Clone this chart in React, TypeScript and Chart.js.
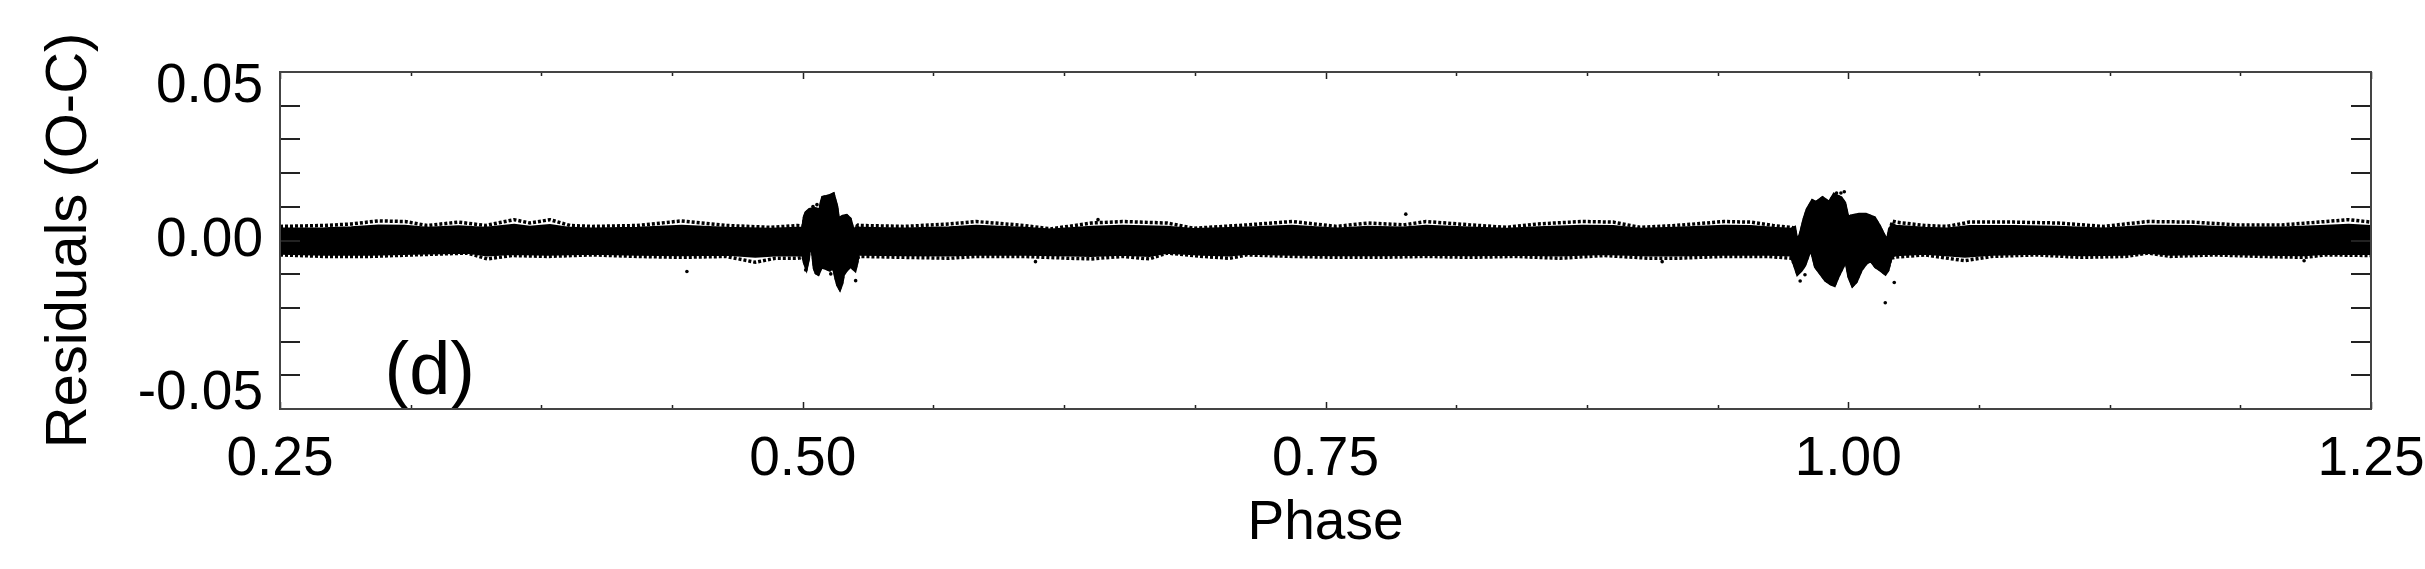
import React, { useEffect, useRef } from "react";
import { Chart, registerables } from "chart.js";

Chart.register(...registerables);

// ---- data ----
// phases of the upper edge of the residual band
const upperPhase = [
  0.25, 0.2713, 0.2841, 0.297, 0.3098, 0.3204, 0.3354, 0.3482, 0.362, 0.3695, 0.3791, 0.3887, 0.3994, 0.4207, 0.4421, 0.4634, 0.4847, 0.4975,
  0.5002, 0.5009, 0.5017, 0.5033, 0.5057, 0.5073, 0.5081, 0.5089, 0.5097, 0.5129, 0.5145, 0.5161, 0.5169, 0.5177, 0.5193, 0.5209, 0.5225, 0.5233, 0.5241, 0.5249, 0.5256, 0.5264,
  0.5274, 0.5488, 0.5701, 0.5829, 0.606, 0.6187, 0.638, 0.6529, 0.6742, 0.687, 0.7126, 0.734, 0.7553, 0.7703, 0.7873, 0.798, 0.8193, 0.8364, 0.8514, 0.8727, 0.8876, 0.9004, 0.9175, 0.9405, 0.9533, 0.964, 0.9726,
  0.9742, 0.975, 0.9766, 0.9774, 0.979, 0.9805, 0.9829, 0.9845, 0.9877, 0.9909, 0.9933, 0.9965, 0.9981, 0.9997, 1.0013, 1.0052, 1.0084, 1.0124, 1.0148, 1.0172, 1.0188, 1.0199, 1.0212, 1.0228,
  1.0366, 1.0472, 1.0579, 1.0793, 1.1006, 1.122, 1.1433, 1.1646, 1.186, 1.2073, 1.2286, 1.2393, 1.25,
];
// dense core of the band, upper edge
const upperCore = [
  0.0036, 0.0037, 0.004, 0.0046, 0.0045, 0.0038, 0.0043, 0.0038, 0.0048, 0.0042, 0.0047, 0.0038, 0.0036, 0.0038, 0.0045, 0.0038, 0.0035, 0.0038,
  0.0038, 0.0075, 0.009, 0.01, 0.0103, 0.01, 0.0085, 0.012, 0.014, 0.0145, 0.015, 0.011, 0.0068, 0.0072, 0.0078, 0.008, 0.007, 0.005, 0.003, 0.003, 0.004, 0.004,
  0.0038, 0.0036, 0.004, 0.0045, 0.0038, 0.0033, 0.0042, 0.0045, 0.0042, 0.0034, 0.0039, 0.0045, 0.0036, 0.0042, 0.0039, 0.0045, 0.0039, 0.0035, 0.004, 0.0045, 0.0044, 0.0035, 0.0038, 0.0045, 0.0044, 0.0038, 0.0035,
  0.004, 0.0008, 0.0008, 0.0024, 0.0068, 0.01, 0.0128, 0.0122, 0.0138, 0.0122, 0.0149, 0.0138, 0.0122, 0.0073, 0.0079, 0.0084, 0.0084, 0.0073, 0.0046, 0.0013, -0.0003, 0.0035, 0.005, 0.0045,
  0.0038, 0.0036, 0.0044, 0.0044, 0.0042, 0.0036, 0.0045, 0.0044, 0.0039, 0.0039, 0.0045, 0.0048, 0.0044,
];
// sparse outermost points, upper edge
const upperOuter = [
  0.0046, 0.0049, 0.0054, 0.0064, 0.0062, 0.0049, 0.006, 0.0049, 0.0068, 0.0057, 0.0068, 0.0049, 0.0046, 0.0049, 0.0064, 0.0049, 0.0043, 0.0049,
  0.0047, 0.0075, 0.009, 0.01, 0.0103, 0.01, 0.0085, 0.012, 0.014, 0.0145, 0.015, 0.011, 0.0068, 0.0072, 0.0078, 0.008, 0.007, 0.005, 0.003, 0.003, 0.0045, 0.005,
  0.0049, 0.0046, 0.0054, 0.0062, 0.0049, 0.0038, 0.0057, 0.0062, 0.0057, 0.004, 0.0051, 0.0062, 0.0046, 0.0057, 0.0051, 0.0062, 0.0051, 0.0043, 0.0054, 0.0062, 0.006, 0.0043, 0.0049, 0.0062, 0.006, 0.0049, 0.0043,
  0.004, 0.0008, 0.0008, 0.0024, 0.0068, 0.01, 0.0128, 0.0122, 0.0138, 0.0122, 0.0149, 0.0138, 0.0122, 0.0073, 0.0079, 0.0084, 0.0084, 0.0073, 0.0046, 0.0013, -0.0003, 0.0035, 0.0063, 0.006,
  0.0049, 0.0046, 0.006, 0.006, 0.0057, 0.0046, 0.0062, 0.006, 0.0051, 0.0051, 0.0062, 0.0068, 0.006,
];
// phases of the lower edge of the residual band
const lowerPhase = [
  0.25, 0.2713, 0.2927, 0.314, 0.3396, 0.3492, 0.361, 0.378, 0.3994, 0.4207, 0.4421, 0.4634, 0.4773, 0.4869, 0.4975,
  0.5002, 0.5009, 0.5017, 0.5025, 0.5033, 0.5041, 0.5049, 0.5057, 0.5065, 0.5073, 0.5081, 0.5089, 0.5113, 0.5129, 0.5145, 0.5153, 0.5161, 0.5169, 0.5177, 0.5185, 0.5193, 0.5209, 0.5225, 0.5233, 0.5241, 0.5249, 0.5256, 0.5264,
  0.5274, 0.5488, 0.5701, 0.5829, 0.606, 0.6273, 0.638, 0.6529, 0.6657, 0.6742, 0.6913, 0.7041, 0.7126, 0.734, 0.7553, 0.7767, 0.798, 0.8193, 0.8407, 0.862, 0.8834, 0.9047, 0.9175, 0.9405, 0.9619, 0.9726,
  0.9742, 0.9758, 0.9774, 0.979, 0.9805, 0.9817, 0.9829, 0.9845, 0.9869, 0.9893, 0.9917, 0.9933, 0.9949, 0.9973, 0.9989, 1.0005, 1.0021, 1.0036, 1.006, 1.0084, 1.0108, 1.0132, 1.0156, 1.0177, 1.0188, 1.0204, 1.0228,
  1.0366, 1.0558, 1.0686, 1.09, 1.1113, 1.1326, 1.1433, 1.154, 1.1753, 1.1966, 1.218, 1.2286, 1.25,
];
const lowerCore = [
  -0.004, -0.0043, -0.0043, -0.004, -0.0037, -0.0046, -0.0041, -0.0043, -0.004, -0.0043, -0.0045, -0.0043, -0.005, -0.0046, -0.0046,
  -0.0045, -0.007, -0.0085, -0.006, -0.001, -0.0008, -0.004, -0.009, -0.0105, -0.0108, -0.0095, -0.0085, -0.009, -0.0095, -0.0085, -0.01, -0.0125, -0.0145, -0.0155, -0.014, -0.011, -0.0095, -0.0085, -0.008, -0.009, -0.0095, -0.0075, -0.0045,
  -0.0043, -0.0045, -0.0046, -0.0043, -0.0043, -0.0046, -0.0047, -0.0043, -0.0047, -0.0037, -0.0043, -0.0046, -0.004, -0.0043, -0.0045, -0.0045, -0.0043, -0.0045, -0.0043, -0.0046, -0.0041, -0.0046, -0.0046, -0.0043, -0.0043, -0.0046,
  -0.0074, -0.0107, -0.0096, -0.008, -0.0052, -0.003, -0.0041, -0.0085, -0.0107, -0.0129, -0.014, -0.0145, -0.0118, -0.0085, -0.0058, -0.0118, -0.0145, -0.0134, -0.0096, -0.0074, -0.0063, -0.0085, -0.0096, -0.0107, -0.0096, -0.005, -0.0045,
  -0.004, -0.005, -0.0043, -0.004, -0.0045, -0.0043, -0.0037, -0.0043, -0.004, -0.0043, -0.0045, -0.004, -0.0041,
];
const lowerOuter = [
  -0.0047, -0.0052, -0.0052, -0.0047, -0.0041, -0.006, -0.0049, -0.0052, -0.0047, -0.0052, -0.0055, -0.0052, -0.0071, -0.0058, -0.0058,
  -0.0055, -0.007, -0.0085, -0.006, -0.001, -0.0008, -0.004, -0.009, -0.0105, -0.0108, -0.0095, -0.0085, -0.009, -0.0095, -0.0085, -0.01, -0.0125, -0.0145, -0.0155, -0.014, -0.011, -0.0095, -0.0085, -0.008, -0.009, -0.0095, -0.0075, -0.0055,
  -0.0052, -0.0055, -0.0058, -0.0052, -0.0052, -0.0058, -0.006, -0.0052, -0.006, -0.0041, -0.0052, -0.0058, -0.0047, -0.0052, -0.0055, -0.0055, -0.0052, -0.0055, -0.0052, -0.0058, -0.0049, -0.0058, -0.0058, -0.0052, -0.0052, -0.0058,
  -0.0074, -0.0107, -0.0096, -0.008, -0.0052, -0.003, -0.0041, -0.0085, -0.0107, -0.0129, -0.014, -0.0145, -0.0118, -0.0085, -0.0058, -0.0118, -0.0145, -0.0134, -0.0096, -0.0074, -0.0063, -0.0085, -0.0096, -0.0107, -0.0096, -0.0058, -0.0054,
  -0.0047, -0.0066, -0.0052, -0.0047, -0.0055, -0.0052, -0.0041, -0.0052, -0.0047, -0.0052, -0.0055, -0.0047, -0.0049,
];
const outlierPhase = [0.4446, 0.5014, 0.5049, 0.5068, 0.5134, 0.5253, 0.6113, 0.6412, 0.7884, 0.911, 0.977, 0.9793, 0.9944, 0.9965, 0.9981, 1.0177, 1.022, 1.218];
const outlierResid = [-0.0101, -0.0096, 0.0111, 0.0117, -0.0109, -0.0131, -0.0069, 0.0068, 0.0086, -0.0069, -0.0132, -0.0112, 0.0155, 0.0155, 0.0159, -0.0203, -0.0137, -0.0066];

const xMajorTicks = [0.25, 0.5, 0.75, 1.0, 1.25];
const xMinorTicks = [0.3125, 0.375, 0.4375, 0.5625, 0.625, 0.6875, 0.8125, 0.875, 0.9375, 1.0625, 1.125, 1.1875];
const yLabelTicks = [-0.05, 0.0, 0.05];
const yTickMarks = [-0.055, -0.044, -0.033, -0.022, -0.011, 0.0, 0.011, 0.022, 0.033, 0.044, 0.055];
const panelLabel = "(d)";
const panelLabelPhase = 0.3;
const panelLabelResid = -0.05;

const FONT = '"Liberation Sans", Arial, Helvetica, sans-serif';

const toXY = (xs: number[], ys: number[]) => xs.map((x, i) => ({ x, y: ys[i] }));

const framePlugin = {
  id: "idlFrame",
  afterDraw(chart: any) {
    const { ctx, chartArea, scales } = chart;
    const { left, right, top, bottom } = chartArea;
    const xs = scales.x;
    const ys = scales.y;
    ctx.save();
    // panel label
    ctx.fillStyle = "#000";
    ctx.font = `74px ${FONT}`;
    ctx.textAlign = "left";
    ctx.textBaseline = "alphabetic";
    ctx.fillText(panelLabel, xs.getPixelForValue(panelLabelPhase), ys.getPixelForValue(panelLabelResid));
    // ticks
    ctx.strokeStyle = "#222";
    ctx.lineWidth = 2;
    ctx.beginPath();
    yTickMarks.forEach((v) => {
      const py = Math.round(ys.getPixelForValue(v));
      ctx.moveTo(left, py);
      ctx.lineTo(left + 20, py);
      ctx.moveTo(right, py);
      ctx.lineTo(right - 20, py);
    });
    ctx.stroke();
    const xTick = (v: number, len: number) => {
      const px = Math.round(xs.getPixelForValue(v)) + 0.5;
      ctx.moveTo(px, bottom);
      ctx.lineTo(px, bottom - len);
      ctx.moveTo(px, top);
      ctx.lineTo(px, top + len);
    };
    ctx.lineWidth = 1.5;
    ctx.beginPath();
    xMajorTicks.forEach((v) => xTick(v, 7));
    xMinorTicks.forEach((v) => xTick(v, 4));
    ctx.stroke();
    // frame
    ctx.strokeStyle = "#444";
    ctx.lineWidth = 2;
    ctx.strokeRect(left, top, right - left, bottom - top);
    ctx.restore();
  },
};

export default function App() {
  const ref = useRef<HTMLCanvasElement | null>(null);
  useEffect(() => {
    if (!ref.current) return;
    const chart = new Chart(ref.current, {
      type: "line",
      data: {
        datasets: [
          {
            data: toXY(upperPhase, upperCore),
            borderColor: "#000",
            backgroundColor: "#000",
            borderWidth: 4,
            pointRadius: 0,
            fill: false,
            tension: 0,
          },
          {
            data: toXY(lowerPhase, lowerCore),
            borderColor: "#000",
            backgroundColor: "#000",
            borderWidth: 4,
            pointRadius: 0,
            fill: "-1",
            tension: 0,
          },
          {
            data: toXY(upperPhase, upperOuter),
            borderColor: "#000",
            borderWidth: 3.5,
            borderDash: [3, 2],
            pointRadius: 0,
            fill: false,
            tension: 0,
          },
          {
            data: toXY(lowerPhase, lowerOuter),
            borderColor: "#000",
            borderWidth: 3.5,
            borderDash: [3, 2],
            pointRadius: 0,
            fill: false,
            tension: 0,
          },
          {
            data: toXY(outlierPhase, outlierResid),
            showLine: false,
            pointRadius: 1.8,
            pointBackgroundColor: "#000",
            pointBorderWidth: 0,
            borderColor: "#000",
            fill: false,
          },
        ],
      },
      options: {
        animation: false,
        responsive: false,
        devicePixelRatio: 1,
        layout: { padding: { top: 72, right: 54, left: 0, bottom: 0 } },
        plugins: { legend: { display: false }, tooltip: { enabled: false } },
        scales: {
          x: {
            type: "linear",
            min: 0.25,
            max: 1.25,
            grid: { display: false, drawTicks: false },
            border: { display: false },
            afterBuildTicks: (s: any) => {
              s.ticks = xMajorTicks.map((v) => ({ value: v }));
            },
            afterFit: (s: any) => {
              s.height = 160;
              s.paddingLeft = 0;
              s.paddingRight = 0;
            },
            ticks: {
              color: "#000",
              font: { family: FONT, size: 55 },
              padding: 18,
              maxRotation: 0,
              autoSkip: false,
              callback: (v: any) => Number(v).toFixed(2),
            },
            title: {
              display: true,
              text: "Phase",
              color: "#000",
              font: { family: FONT, size: 55 },
              padding: { top: 0, bottom: 12 },
            },
          },
          y: {
            type: "linear",
            min: -0.055,
            max: 0.055,
            grid: { display: false, drawTicks: false },
            border: { display: false },
            afterBuildTicks: (s: any) => {
              s.ticks = yLabelTicks.map((v) => ({ value: v }));
            },
            afterFit: (s: any) => {
              s.width = 280;
              s.paddingTop = 0;
              s.paddingBottom = 0;
            },
            ticks: {
              color: "#000",
              font: { family: FONT, size: 55 },
              padding: 17,
              autoSkip: false,
              callback: (v: any) => Number(v).toFixed(2),
            },
            title: {
              display: true,
              text: "Residuals (O-C)",
              color: "#000",
              font: { family: FONT, size: 58 },
              padding: { top: 35, bottom: 0 },
            },
          },
        },
      },
      plugins: [framePlugin],
    });
    return () => chart.destroy();
  }, []);
  return (
    <div style={{ position: "fixed", left: 0, top: 0, width: 2425, height: 569, background: "#fff" }}>
      <canvas ref={ref} width={2425} height={569} style={{ width: 2425, height: 569, display: "block" }} />
    </div>
  );
}
